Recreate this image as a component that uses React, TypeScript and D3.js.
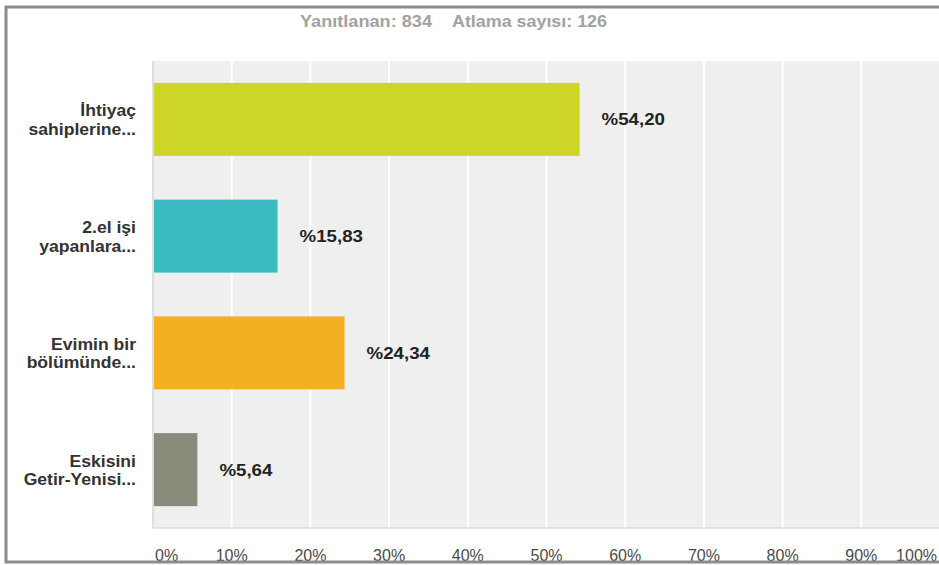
import React from "react";
import * as d3 from "d3";

const categories = [
  ["İhtiyaç", "sahiplerine..."],
  ["2.el işi", "yapanlara..."],
  ["Evimin bir", "bölümünde..."],
  ["Eskisini", "Getir-Yenisi..."],
];
const values = [54.2, 15.83, 24.34, 5.64];
const valueLabels = ["%54,20", "%15,83", "%24,34", "%5,64"];
const colors = ["#cdd526", "#3bbbbf", "#f2b022", "#8a8b7b"];
const ticks = [0, 10, 20, 30, 40, 50, 60, 70, 80, 90, 100];
const titleParts = ["Yanıtlanan: 834", "Atlama sayısı: 126"];

const W = 939;
const H = 565;
const plot = { left: 153, right: 940, top: 61, bottom: 528 };
const FONT = "'Liberation Sans', Arial, Helvetica, sans-serif";
const SX = 1.1;

export default function App() {
  const x = d3.scaleLinear().domain([0, 100]).range([plot.left, plot.right]);
  const y = d3
    .scaleBand<number>()
    .domain(d3.range(categories.length))
    .range([plot.top, plot.bottom])
    .paddingInner(0.375)
    .paddingOuter(0.1875);

  return (
    <svg
      width={W}
      height={H}
      style={{ position: "absolute", left: 0, top: 0, background: "#fff" }}
      fontFamily={FONT}
    >
      <rect x={0} y={0} width={W} height={H} fill="#fff" />
      {/* title */}
      <text
        x={300}
        y={27}
        fontSize={16}
        fontWeight="bold"
        fill="#a2a2a2"
        textLength={132}
        lengthAdjust="spacingAndGlyphs"
      >
        {titleParts[0]}
      </text>
      <text
        x={452}
        y={27}
        fontSize={16}
        fontWeight="bold"
        fill="#a2a2a2"
        textLength={155}
        lengthAdjust="spacingAndGlyphs"
      >
        {titleParts[1]}
      </text>

      {/* plot background */}
      <rect
        x={plot.left}
        y={plot.top}
        width={plot.right - plot.left}
        height={plot.bottom - plot.top}
        fill="#efefef"
      />
      {ticks.slice(1).map((t) => (
        <line
          key={t}
          x1={x(t)}
          x2={x(t)}
          y1={plot.top}
          y2={plot.bottom}
          stroke="#ffffff"
          strokeWidth={2}
        />
      ))}
      <line
        x1={plot.left}
        x2={plot.left}
        y1={plot.top}
        y2={plot.bottom}
        stroke="#d6d6d6"
        strokeWidth={1.5}
      />
      <line
        x1={plot.left}
        x2={plot.right}
        y1={plot.bottom}
        y2={plot.bottom}
        stroke="#dcdcdc"
        strokeWidth={1.5}
      />

      {/* bars */}
      {values.map((v, i) => {
        const y0 = y(i)!;
        const bh = y.bandwidth();
        const cy = y0 + bh / 2;
        return (
          <g key={i}>
            <rect
              x={x(0) + 1}
              y={y0}
              width={x(v) - x(0) - 1}
              height={bh}
              fill={colors[i]}
            />
            <text
              transform={`translate(${x(v) + 22},${cy + 6}) scale(${SX},1)`}
              fontSize={17}
              fontWeight="bold"
              fill="#222"
            >
              {valueLabels[i]}
            </text>
            <text
              transform={`translate(136,${cy - 3}) scale(${SX},1)`}
              fontSize={16}
              fontWeight="bold"
              fill="#333"
              textAnchor="end"
            >
              {categories[i][0]}
            </text>
            <text
              transform={`translate(136,${cy + 15.5}) scale(${SX},1)`}
              fontSize={16}
              fontWeight="bold"
              fill="#333"
              textAnchor="end"
            >
              {categories[i][1]}
            </text>
          </g>
        );
      })}

      {/* x tick labels */}
      {ticks.map((t, i) => {
        const anchor = i === 0 ? "start" : i === ticks.length - 1 ? "end" : "middle";
        const px = i === 0 ? 155 : i === ticks.length - 1 ? 937 : x(t);
        return (
          <text
            key={t}
            x={px}
            y={561}
            fontSize={16}
            fill="#4a4a4a"
            textAnchor={anchor}
          >
            {`${t}%`}
          </text>
        );
      })}

      {/* frame */}
      <rect
        x={6}
        y={7}
        width={W + 10}
        height={555}
        fill="none"
        stroke="#8c8c8c"
        strokeWidth={3}
      />
    </svg>
  );
}
